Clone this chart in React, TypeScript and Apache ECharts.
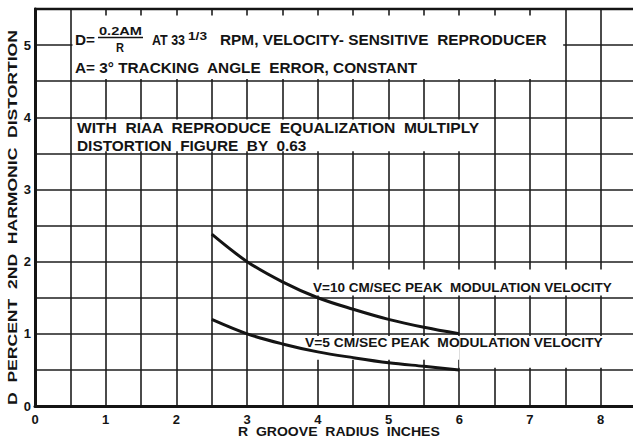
import React, { useEffect, useRef } from "react";
import * as echarts from "echarts";

const xTickLabels = ["0", "1", "2", "3", "4", "5", "6", "7", "8"];
const yTickLabels = ["0", "1", "2", "3", "4", "5"];
const radius = [2.5, 3, 3.5, 4, 4.5, 5, 5.5, 6];
const v10 = [2.38, 2.0, 1.72, 1.5, 1.34, 1.2, 1.09, 1.0];
const v5 = [1.2, 1.0, 0.86, 0.75, 0.67, 0.6, 0.55, 0.5];

const FONT = '"Liberation Sans", "DejaVu Sans", sans-serif';
const INK = "#141414";

function measure(text: string, size: number): number {
  const ctx = document.createElement("canvas").getContext("2d")!;
  ctx.font = `bold ${size}px ${FONT}`;
  return ctx.measureText(text).width;
}

function fitText(text: string, x1: number, x2: number, cy: number, size: number) {
  const w = measure(text, size);
  return {
    type: "text",
    x: x1,
    y: cy,
    scaleX: (x2 - x1) / w,
    z: 100,
    style: {
      text,
      fontSize: size,
      fontWeight: "bold",
      fontFamily: FONT,
      fill: INK,
      align: "left",
      verticalAlign: "middle",
    },
  };
}

function vertText(text: string, cx: number, yBottom: number, yTop: number, size: number) {
  const w = measure(text, size);
  return {
    type: "text",
    x: cx,
    y: yBottom,
    rotation: Math.PI / 2,
    scaleX: (yBottom - yTop) / w,
    z: 100,
    style: {
      text,
      fontSize: size,
      fontWeight: "bold",
      fontFamily: FONT,
      fill: INK,
      align: "left",
      verticalAlign: "middle",
    },
  };
}

export default function App() {
  const ref = useRef<HTMLDivElement>(null);
  useEffect(() => {
    if (!ref.current) return;
    const chart = echarts.init(ref.current, undefined, { renderer: "svg" });
    // white panels (x1, y1, x2, y2 in axis units) that hide the grid behind the notes
    const panels = [
      [0.53, 4.53, 7.47, 5.41],
      [0.53, 3.53, 6.47, 3.97],
      [3.6, 1.53, 8.5, 1.89],
      [3.6, 0.64, 6.0, 0.97],
      [6.0, 0.53, 8.5, 0.97],
    ];
    const lineSeries = (name: string, vals: number[]) => ({
      name,
      type: "line",
      data: radius.map((r, i) => [r, vals[i]]),
      smooth: 0.35,
      showSymbol: false,
      z: 5,
      lineStyle: { color: INK, width: 3 },
    });
    chart.setOption({
      animation: false,
      backgroundColor: "#ffffff",
      grid: { left: 35, top: 9, right: -3, bottom: 36, outerBoundsMode: "none" },
      xAxis: {
        type: "value",
        min: 0,
        max: 8.5,
        interval: 0.5,
        axisLine: { show: true, onZero: false, lineStyle: { color: INK, width: 3 } },
        axisTick: { show: false },
        splitLine: { show: true, lineStyle: { color: "#1e1e1e", width: 1.6 } },
        axisLabel: {
          margin: 7,
          fontSize: 13,
          fontWeight: "bold",
          fontFamily: FONT,
          color: INK,
          formatter: (v: number) => (Number.isInteger(v) ? xTickLabels[v] ?? "" : ""),
        },
      },
      yAxis: {
        type: "value",
        min: 0,
        max: 5.5,
        interval: 0.5,
        axisLine: { show: true, onZero: false, lineStyle: { color: INK, width: 3 } },
        axisTick: { show: false },
        splitLine: { show: true, lineStyle: { color: "#1e1e1e", width: 1.6 } },
        axisLabel: {
          margin: 4,
          fontSize: 13,
          fontWeight: "bold",
          fontFamily: FONT,
          color: INK,
          formatter: (v: number) => (Number.isInteger(v) ? yTickLabels[v] ?? "" : ""),
        },
      },
      series: [
        {
          type: "custom",
          z: 3,
          data: panels,
          encode: { x: [0, 2], y: [1, 3] },
          renderItem: (_params: any, api: any) => {
            const p1 = api.coord([api.value(0), api.value(3)]);
            const p2 = api.coord([api.value(2), api.value(1)]);
            return {
              type: "rect",
              shape: { x: p1[0], y: p1[1], width: p2[0] - p1[0], height: p2[1] - p1[1] },
              style: { fill: "#ffffff" },
            };
          },
        },
        lineSeries("V=10 CM/SEC", v10),
        lineSeries("V=5 CM/SEC", v5),
      ],
      graphic: [
        {
          type: "line",
          z: 100,
          shape: { x1: 34, y1: 9, x2: 633, y2: 9 },
          style: { stroke: INK, lineWidth: 2.5 },
        },
        fitText("D=", 75, 95, 40, 14),
        fitText("0.2AM", 99, 142, 31, 11),
        {
          type: "line",
          z: 100,
          shape: { x1: 98, y1: 37.5, x2: 143, y2: 37.5 },
          style: { stroke: INK, lineWidth: 1.6 },
        },
        fitText("R", 116, 124, 47.5, 12),
        fitText("AT 33", 152, 185, 40, 14),
        fitText("1/3", 188, 207, 37, 10),
        fitText("RPM, VELOCITY- SENSITIVE  REPRODUCER", 220, 547, 40, 14),
        fitText("A= 3° TRACKING  ANGLE  ERROR, CONSTANT", 75, 418, 68, 14),
        fitText("WITH  RIAA  REPRODUCE  EQUALIZATION  MULTIPLY", 77, 480, 128, 14),
        fitText("DISTORTION  FIGURE  BY  0.63", 77, 307, 146, 14),
        fitText("V=10 CM/SEC PEAK  MODULATION VELOCITY", 313, 612, 288, 13),
        fitText("V=5 CM/SEC PEAK  MODULATION VELOCITY", 305, 603, 343, 13),
        fitText("R  GROOVE  RADIUS  INCHES", 238, 440, 432, 13),
        vertText("D  PERCENT  2ND  HARMONIC  DISTORTION", 12, 405, 30, 13),
      ],
    });
    return () => chart.dispose();
  }, []);
  return (
    <div
      ref={ref}
      style={{ position: "absolute", left: 0, top: 0, width: 633, height: 442 }}
    />
  );
}
